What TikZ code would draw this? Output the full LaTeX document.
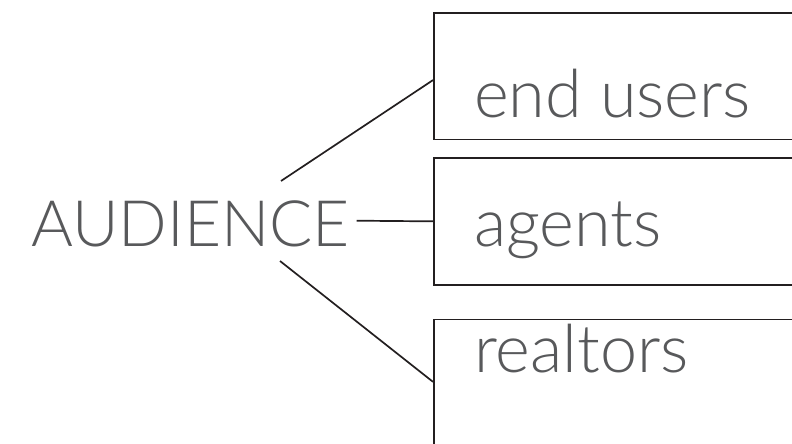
\documentclass[tikz,border=0pt]{standalone}
\usepackage{fontspec}
\setmainfont{Lato}[UprightFont={* Light}]
\definecolor{txtgray}{RGB}{88,89,91}
\definecolor{linedark}{RGB}{35,31,32}
\tikzset{
  boxnode/.style={draw=linedark, line width=1.7pt, rectangle, anchor=north west, minimum width=420pt, inner sep=0pt},
  lbl/.style={font=\fontsize{64}{64}\selectfont, text=txtgray, anchor=base west, inner sep=0pt},
  boxlbl/.style={lbl, font=\fontsize{66.5}{66.5}\selectfont},
  conn/.style={draw=linedark, line width=1.7pt}
}
\begin{document}
\begin{tikzpicture}[x=1pt,y=-1pt]
\useasboundingbox (0,0) rectangle (792,444);
\node[lbl] (aud) at (31,246) {AUDIENCE};
\node[boxnode, minimum height=126.5pt] (b1) at (433,12) {};
\node[boxnode, minimum height=127pt] (b2) at (433,157) {};
\node[boxnode, minimum height=125pt] (b3) at (433,318.5) {};
\node[boxlbl] (t1) at (474,117.7) {end users};
\node[boxlbl] (t2) at (474,246) {agents};
\node[boxlbl] (t3) at (474,372.7) {realtors};
\coordinate (s1) at (281,181);
\coordinate (s2) at (356.7,220.7);
\coordinate (s3) at (280,261);
\draw[conn] (s1) -- ([yshift=-4pt]b1.west);
\draw[conn] (s2) -- (b2.west);
\draw[conn] (s3) -- (b3.west);
\end{tikzpicture}
\end{document}
